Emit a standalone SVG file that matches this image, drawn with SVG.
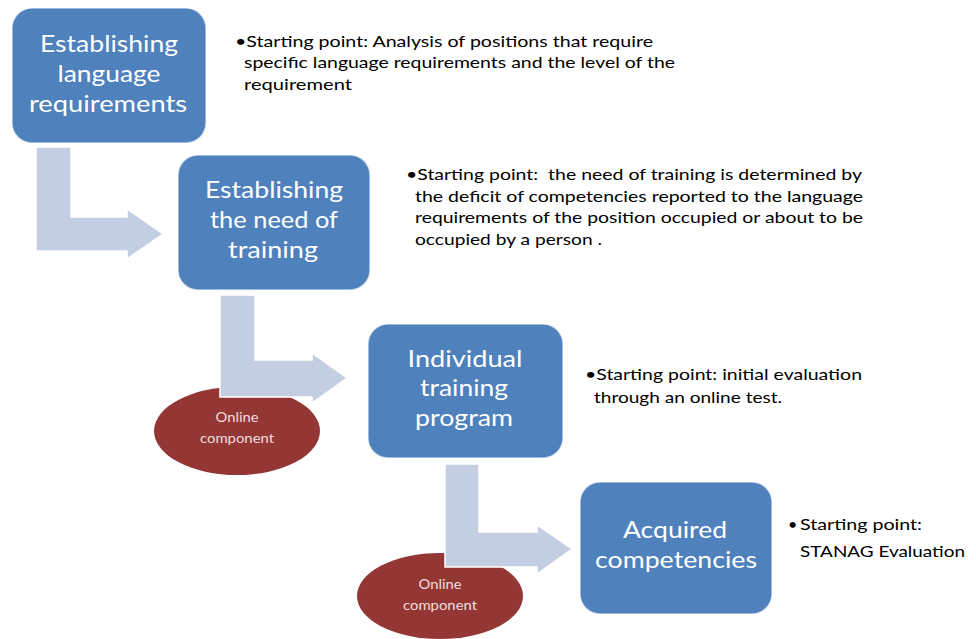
<svg xmlns="http://www.w3.org/2000/svg" width="976" height="639" viewBox="0 0 976 639">
<style>
.box{fill:#4F81BD;stroke:#ffffff;stroke-opacity:0.6;stroke-width:1.5}
.bt{font-family:Lato,"Open Sans","Liberation Sans",sans-serif;font-size:24px;fill:#ffffff;text-anchor:middle}
.arrow{fill:#C4CEE3;stroke:#ffffff;stroke-width:1.5}
.oval{fill:#943634}
.ot{font-family:Lato,"Open Sans","Liberation Sans",sans-serif;font-size:12.5px;fill:#F2DCDB;text-anchor:middle}
.st{font-family:Lato,"Open Sans","Liberation Sans",sans-serif;font-size:16px;fill:#000000}
</style>
<rect width="976" height="639" fill="#ffffff"/>
<g id="online-1"><ellipse class="oval" cx="237" cy="431" rx="83" ry="44"/>
<text class="ot" x="237" y="422" textLength="43" lengthAdjust="spacingAndGlyphs">Online</text>
<text class="ot" x="237" y="443" textLength="74" lengthAdjust="spacingAndGlyphs">component</text></g>
<g id="online-2"><ellipse class="oval" cx="440" cy="596" rx="83" ry="43"/>
<text class="ot" x="440" y="589" textLength="43" lengthAdjust="spacingAndGlyphs">Online</text>
<text class="ot" x="440" y="610" textLength="74" lengthAdjust="spacingAndGlyphs">component</text></g>
<g id="connectors">
<path class="arrow" d="M36,147 L71,147 L71,217 L127,217 L127,209 L163,234 L127,259 L127,251 L36,251 Z"/>
<path class="arrow" d="M220,295 L255,295 L255,360 L312,360 L312,353 L347,378 L312,403 L312,397 L220,397 Z"/>
<path class="arrow" d="M445,464 L479,464 L479,532 L537,532 L537,525 L572,549 L537,574 L537,567 L445,567 Z"/>
</g>
<g id="box-1"><rect class="box" x="12" y="8" width="194" height="135" rx="20"/>
<text class="bt" x="109" y="52" textLength="138" lengthAdjust="spacingAndGlyphs">Establishing</text>
<text class="bt" x="109" y="82" textLength="103" lengthAdjust="spacingAndGlyphs">language</text>
<text class="bt" x="108" y="112" textLength="158" lengthAdjust="spacingAndGlyphs">requirements</text></g>
<g id="box-2"><rect class="box" x="178" y="155" width="192" height="135" rx="20"/>
<text class="bt" x="274" y="198" textLength="138" lengthAdjust="spacingAndGlyphs">Establishing</text>
<text class="bt" x="274" y="228" textLength="128" lengthAdjust="spacingAndGlyphs">the need of</text>
<text class="bt" x="273" y="258" textLength="90" lengthAdjust="spacingAndGlyphs">training</text></g>
<g id="box-3"><rect class="box" x="368" y="324" width="195" height="134" rx="20"/>
<text class="bt" x="465" y="367" textLength="115" lengthAdjust="spacingAndGlyphs">Individual</text>
<text class="bt" x="464" y="396" textLength="88" lengthAdjust="spacingAndGlyphs">training</text>
<text class="bt" x="464" y="426" textLength="98" lengthAdjust="spacingAndGlyphs">program</text></g>
<g id="box-4"><rect class="box" x="580" y="482" width="192" height="132" rx="20"/>
<text class="bt" x="675" y="538" textLength="104" lengthAdjust="spacingAndGlyphs">Acquired</text>
<text class="bt" x="676" y="568" textLength="162" lengthAdjust="spacingAndGlyphs">competencies</text></g>
<g id="note-1">
<text class="st" x="235" y="47" textLength="418" lengthAdjust="spacingAndGlyphs">•Starting point: Analysis of positions that require</text>
<text class="st" x="244" y="68" textLength="431" lengthAdjust="spacingAndGlyphs">specific language requirements and the level of the</text>
<text class="st" x="244" y="90" textLength="108" lengthAdjust="spacingAndGlyphs">requirement</text></g>
<g id="note-2">
<text class="st" x="406" y="180" textLength="456" lengthAdjust="spacingAndGlyphs" xml:space="preserve">•Starting point:  the need of training is determined by</text>
<text class="st" x="415" y="202" textLength="448" lengthAdjust="spacingAndGlyphs">the deficit of competencies reported to the language</text>
<text class="st" x="415" y="223" textLength="448" lengthAdjust="spacingAndGlyphs">requirements of the position occupied or about to be</text>
<text class="st" x="415" y="245" textLength="187" lengthAdjust="spacingAndGlyphs">occupied by a person .</text></g>
<g id="note-3">
<text class="st" x="585" y="380" textLength="277" lengthAdjust="spacingAndGlyphs">•Starting point: initial evaluation</text>
<text class="st" x="594" y="403" textLength="188" lengthAdjust="spacingAndGlyphs">through an online test.</text></g>
<g id="note-4">
<text class="st" x="788" y="530">•</text>
<text class="st" x="800" y="530" textLength="122" lengthAdjust="spacingAndGlyphs">Starting point:</text>
<text class="st" x="800" y="557" textLength="165" lengthAdjust="spacingAndGlyphs">STANAG Evaluation</text></g>
</svg>
